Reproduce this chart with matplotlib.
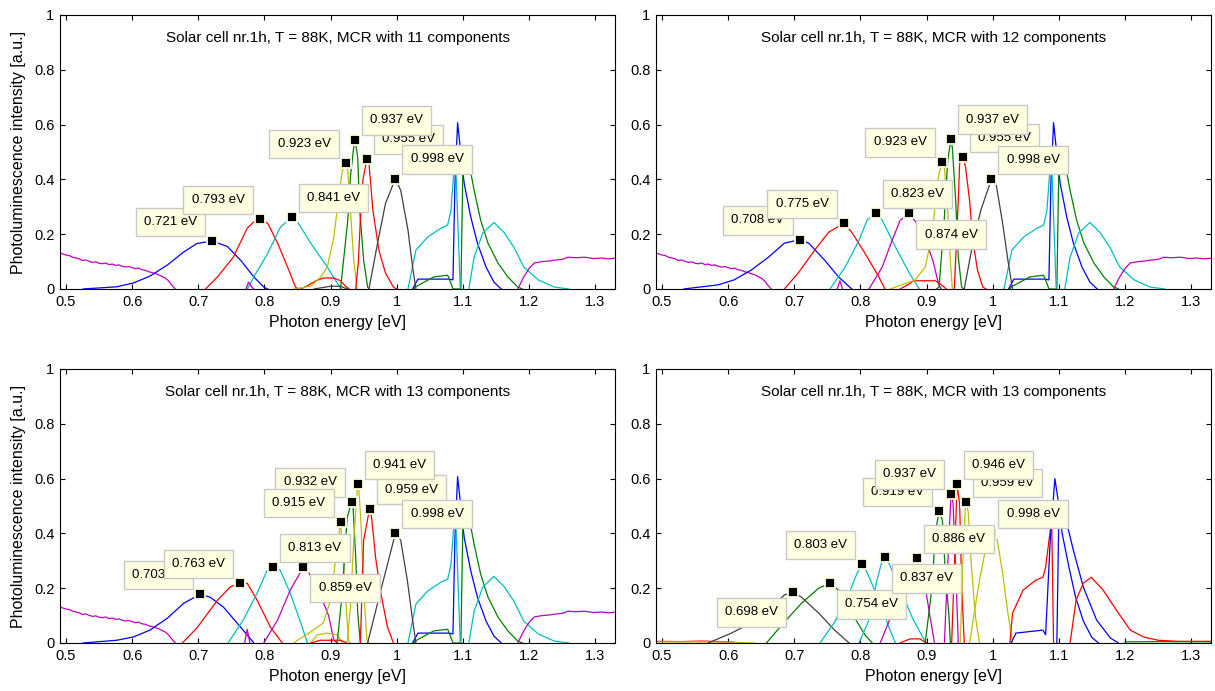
import matplotlib
matplotlib.use("Agg")
import matplotlib.pyplot as plt

plt.rcParams['font.family'] = ['Liberation Sans', 'DejaVu Sans']

# ---- tick labels / titles ----
x_ticks = [0.5, 0.6, 0.7, 0.8, 0.9, 1.0, 1.1, 1.2, 1.3]
x_tick_labels = ['0.5', '0.6', '0.7', '0.8', '0.9', '1', '1.1', '1.2', '1.3']
y_ticks = [0, 0.2, 0.4, 0.6, 0.8, 1.0]
y_tick_labels = ['0', '0.2', '0.4', '0.6', '0.8', '1']
n_components = [11, 12, 13, 13]

# ---- shared components (panels 1-3) ----
bg_low_e = [0.490, 0.495, 0.500, 0.505, 0.510, 0.515, 0.520, 0.525, 0.530, 0.535, 0.540, 0.545,
            0.550, 0.555, 0.560, 0.565, 0.570, 0.575, 0.580, 0.585, 0.590, 0.595, 0.600, 0.605,
            0.610, 0.615, 0.620, 0.625, 0.630, 0.635, 0.640, 0.645, 0.650, 0.655, 0.660, 0.665]
bg_low_i = [0.132, 0.128, 0.124, 0.122, 0.116, 0.113, 0.110, 0.104, 0.106, 0.101, 0.097, 0.099,
            0.094, 0.092, 0.095, 0.089, 0.091, 0.086, 0.088, 0.083, 0.080, 0.082, 0.078, 0.074,
            0.076, 0.070, 0.068, 0.063, 0.060, 0.056, 0.052, 0.046, 0.040, 0.030, 0.014, 0.0]
bg_high_e = [1.183, 1.192, 1.200, 1.208, 1.220, 1.230, 1.238, 1.250, 1.259, 1.270, 1.284, 1.297, 1.309, 1.320, 1.333]
bg_high_i = [0.0, 0.044, 0.075, 0.095, 0.100, 0.102, 0.105, 0.108, 0.116, 0.114, 0.116, 0.111, 0.113, 0.110, 0.113]
he_blue_e = [1.024, 1.032, 1.079, 1.085, 1.088, 1.092, 1.096, 1.102, 1.112, 1.122, 1.135, 1.147, 1.158]
he_blue_i = [0.0, 0.036, 0.036, 0.033, 0.385, 0.607, 0.516, 0.385, 0.262, 0.167, 0.080, 0.025, 0.0]
he_green_e = [1.025, 1.030, 1.056, 1.077, 1.082, 1.085, 1.097, 1.100, 1.103, 1.109, 1.117, 1.127, 1.138, 1.153, 1.168, 1.183, 1.190]
he_green_i = [0.0, 0.010, 0.044, 0.050, 0.020, 0.0, 0.0, 0.444, 0.480, 0.462, 0.360, 0.250, 0.167, 0.095, 0.044, 0.007, 0.0]
he_cyan_e = [1.017, 1.029, 1.047, 1.067, 1.077, 1.082, 1.086, 1.089, 1.093, 1.096]
he_cyan_i = [0.0, 0.142, 0.190, 0.222, 0.233, 0.287, 0.420, 0.470, 0.200, 0.0]
he_cyan2_e = [1.109, 1.117, 1.130, 1.147, 1.162, 1.177, 1.192, 1.214, 1.238, 1.260]
he_cyan2_i = [0.0, 0.116, 0.204, 0.243, 0.207, 0.153, 0.080, 0.033, 0.007, 0.0]

# ---- panel 1 (11 components) ----
p1_b_e = [0.526, 0.577, 0.602, 0.627, 0.653, 0.678, 0.698, 0.721, 0.744, 0.764, 0.784, 0.799, 0.805]
p1_b_i = [0.0, 0.008, 0.022, 0.047, 0.087, 0.135, 0.166, 0.175, 0.155, 0.105, 0.044, 0.007, 0.0]
p1_r1_e = [0.711, 0.729, 0.753, 0.774, 0.784, 0.793, 0.805, 0.820, 0.835, 0.847, 0.851]
p1_r1_i = [0.0, 0.044, 0.116, 0.222, 0.245, 0.255, 0.240, 0.167, 0.080, 0.007, 0.0]
p1_c_e = [0.774, 0.784, 0.805, 0.824, 0.841, 0.850, 0.870, 0.895, 0.910, 0.916]
p1_c_i = [0.0, 0.044, 0.130, 0.225, 0.262, 0.245, 0.167, 0.080, 0.022, 0.0]
p1_y_e = [0.845, 0.870, 0.885, 0.895, 0.905, 0.913, 0.918, 0.923, 0.926, 0.930, 0.935, 0.940]
p1_y_i = [0.0, 0.010, 0.044, 0.080, 0.190, 0.350, 0.433, 0.458, 0.433, 0.287, 0.105, 0.0]
p1_g_e = [0.915, 0.926, 0.930, 0.935, 0.937, 0.941, 0.944, 0.950, 0.956, 0.958]
p1_g_i = [0.0, 0.250, 0.410, 0.518, 0.545, 0.480, 0.287, 0.105, 0.007, 0.0]
p1_r2_e = [0.938, 0.942, 0.945, 0.949, 0.955, 0.958, 0.964, 0.973, 0.983, 0.995, 1.000]
p1_r2_i = [0.0, 0.100, 0.250, 0.400, 0.476, 0.460, 0.287, 0.142, 0.058, 0.007, 0.0]
p1_k_e = [0.958, 0.971, 0.983, 0.998, 1.006, 1.017, 1.024, 1.029]
p1_k_i = [0.0, 0.167, 0.312, 0.403, 0.360, 0.215, 0.080, 0.0]
p1_r3_e = [0.855, 0.865, 0.878, 0.889, 0.905, 0.915, 0.922, 0.928]
p1_r3_i = [0.0, 0.012, 0.030, 0.040, 0.040, 0.030, 0.012, 0.0]
p1_k2_e = [0.875, 0.900, 0.915, 0.925]
p1_k2_i = [0.0, 0.010, 0.010, 0.0]
p1_m_e = [0.772, 0.776, 0.780, 0.784]
p1_m_i = [0.0, 0.025, 0.010, 0.0]
tip1_e = [0.721, 0.793, 0.841, 0.923, 0.955, 0.937, 0.998]
tip1_i = [0.175, 0.255, 0.262, 0.458, 0.476, 0.545, 0.403]

# ---- panel 2 (12 components) ----
p2_b_e = [0.533, 0.585, 0.609, 0.635, 0.661, 0.685, 0.708, 0.722, 0.746, 0.767, 0.787]
p2_b_i = [0.0, 0.015, 0.033, 0.069, 0.116, 0.167, 0.180, 0.167, 0.105, 0.044, 0.0]
p2_r1_e = [0.685, 0.706, 0.731, 0.752, 0.775, 0.787, 0.807, 0.828, 0.837]
p2_r1_i = [0.0, 0.058, 0.142, 0.207, 0.240, 0.207, 0.130, 0.044, 0.0]
p2_c_e = [0.754, 0.777, 0.798, 0.810, 0.823, 0.833, 0.853, 0.874, 0.889]
p2_c_i = [0.0, 0.080, 0.178, 0.251, 0.276, 0.251, 0.153, 0.058, 0.0]
p2_m_e = [0.813, 0.833, 0.848, 0.860, 0.874, 0.885, 0.900, 0.910, 0.918, 0.922]
p2_m_i = [0.0, 0.080, 0.178, 0.250, 0.276, 0.240, 0.170, 0.100, 0.020, 0.0]
p2_y_e = [0.845, 0.853, 0.883, 0.898, 0.909, 0.916, 0.923, 0.927, 0.932, 0.936, 0.939]
p2_y_i = [0.0, 0.007, 0.033, 0.080, 0.204, 0.385, 0.465, 0.444, 0.287, 0.105, 0.0]
p2_g_e = [0.915, 0.919, 0.927, 0.932, 0.937, 0.939, 0.944, 0.948, 0.953, 0.956]
p2_g_i = [0.0, 0.007, 0.262, 0.469, 0.548, 0.516, 0.324, 0.116, 0.007, 0.0]
p2_r2_e = [0.942, 0.948, 0.950, 0.955, 0.959, 0.965, 0.970, 0.977, 0.985, 0.990]
p2_r2_i = [0.0, 0.324, 0.458, 0.480, 0.444, 0.324, 0.178, 0.069, 0.007, 0.0]
p2_k_e = [0.957, 0.970, 0.982, 0.998, 1.005, 1.015, 1.023, 1.030]
p2_k_i = [0.0, 0.167, 0.287, 0.400, 0.385, 0.240, 0.105, 0.0]
p2_r3_e = [0.860, 0.875, 0.880, 0.913, 0.920, 0.930]
p2_r3_i = [0.0, 0.020, 0.030, 0.030, 0.020, 0.0]
p2_m2_e = [0.765, 0.769, 0.773]
p2_m2_i = [0.0, 0.030, 0.0]
tip2_e = [0.708, 0.775, 0.823, 0.874, 0.923, 0.955, 0.937, 0.998]
tip2_i = [0.180, 0.240, 0.276, 0.276, 0.465, 0.480, 0.548, 0.400]

# ---- panel 3 (13 components) ----
p3_b_e = [0.526, 0.577, 0.602, 0.627, 0.653, 0.678, 0.703, 0.718, 0.738, 0.764, 0.784]
p3_b_i = [0.0, 0.010, 0.022, 0.047, 0.090, 0.145, 0.178, 0.167, 0.131, 0.058, 0.0]
p3_r1_e = [0.676, 0.698, 0.729, 0.748, 0.763, 0.774, 0.789, 0.809, 0.827]
p3_r1_i = [0.0, 0.055, 0.156, 0.204, 0.218, 0.218, 0.156, 0.058, 0.0]
p3_c_e = [0.745, 0.768, 0.789, 0.804, 0.813, 0.824, 0.839, 0.855, 0.865]
p3_c_i = [0.0, 0.084, 0.182, 0.265, 0.276, 0.265, 0.182, 0.073, 0.0]
p3_m_e = [0.799, 0.820, 0.839, 0.859, 0.866, 0.875, 0.887, 0.897, 0.905, 0.910]
p3_m_i = [0.0, 0.084, 0.193, 0.277, 0.260, 0.225, 0.160, 0.100, 0.010, 0.0]
p3_y1_e = [0.845, 0.850, 0.874, 0.889, 0.900, 0.908, 0.915, 0.918, 0.923, 0.927, 0.930]
p3_y1_i = [0.0, 0.010, 0.047, 0.073, 0.156, 0.313, 0.440, 0.350, 0.156, 0.010, 0.0]
p3_g_e = [0.910, 0.918, 0.925, 0.932, 0.934, 0.938, 0.941, 0.945]
p3_g_i = [0.0, 0.193, 0.458, 0.516, 0.495, 0.313, 0.109, 0.0]
p3_y2_e = [0.925, 0.930, 0.935, 0.941, 0.943, 0.946, 0.950, 0.955, 0.958]
p3_y2_i = [0.0, 0.131, 0.375, 0.580, 0.550, 0.436, 0.193, 0.010, 0.0]
p3_r2_e = [0.945, 0.950, 0.959, 0.962, 0.968, 0.976, 0.986, 0.995]
p3_r2_i = [0.0, 0.375, 0.490, 0.458, 0.313, 0.182, 0.058, 0.0]
p3_k_e = [0.956, 0.976, 0.998, 1.006, 1.016, 1.024, 1.029]
p3_k_i = [0.0, 0.193, 0.400, 0.375, 0.229, 0.084, 0.0]
p3_m2_e = [0.770, 0.774, 0.778]
p3_m2_i = [0.0, 0.050, 0.0]
p3_y3_e = [0.870, 0.880, 0.895, 0.910, 0.918]
p3_y3_i = [0.0, 0.030, 0.036, 0.030, 0.0]
p3_r3_e = [0.870, 0.885, 0.915, 0.925]
p3_r3_i = [0.0, 0.010, 0.010, 0.0]
tip3_e = [0.703, 0.763, 0.813, 0.859, 0.932, 0.915, 0.959, 0.941, 0.998]
tip3_i = [0.178, 0.218, 0.276, 0.277, 0.516, 0.440, 0.490, 0.580, 0.400]

# ---- panel 4 (13 components) ----
p4_k_e = [0.570, 0.605, 0.635, 0.666, 0.685, 0.698, 0.711, 0.737, 0.761, 0.783]
p4_k_i = [0.0, 0.036, 0.073, 0.131, 0.175, 0.185, 0.167, 0.109, 0.047, 0.0]
p4_g1_e = [0.658, 0.685, 0.711, 0.737, 0.754, 0.767, 0.787, 0.807, 0.818]
p4_g1_i = [0.0, 0.076, 0.145, 0.200, 0.218, 0.193, 0.109, 0.029, 0.0]
p4_c1_e = [0.739, 0.761, 0.783, 0.795, 0.803, 0.810, 0.828, 0.843, 0.853]
p4_c1_i = [0.0, 0.076, 0.182, 0.255, 0.287, 0.258, 0.156, 0.058, 0.0]
p4_c2_e = [0.798, 0.813, 0.825, 0.833, 0.837, 0.843, 0.859, 0.878, 0.894, 0.900]
p4_c2_i = [0.0, 0.084, 0.229, 0.302, 0.313, 0.291, 0.204, 0.095, 0.022, 0.0]
p4_m1_e = [0.830, 0.850, 0.870, 0.886, 0.895, 0.905, 0.912]
p4_m1_i = [0.0, 0.120, 0.250, 0.309, 0.250, 0.100, 0.0]
p4_g2_e = [0.898, 0.909, 0.913, 0.919, 0.924, 0.928, 0.934, 0.936]
p4_g2_i = [0.0, 0.218, 0.400, 0.480, 0.447, 0.276, 0.095, 0.0]
p4_m2_e = [0.927, 0.933, 0.937, 0.940, 0.944, 0.948]
p4_m2_i = [0.0, 0.338, 0.545, 0.513, 0.276, 0.0]
p4_r1_e = [0.938, 0.943, 0.946, 0.950, 0.953, 0.957]
p4_r1_i = [0.0, 0.340, 0.580, 0.510, 0.218, 0.0]
p4_y1_e = [0.951, 0.955, 0.959, 0.963, 0.968, 0.974, 0.980]
p4_y1_i = [0.0, 0.300, 0.513, 0.480, 0.276, 0.095, 0.0]
p4_y2_e = [0.965, 0.980, 0.992, 0.998, 1.007, 1.015, 1.023, 1.030]
p4_y2_i = [0.0, 0.229, 0.375, 0.400, 0.375, 0.255, 0.109, 0.0]
p4_r2_e = [1.026, 1.030, 1.046, 1.065, 1.076, 1.080, 1.087, 1.089, 1.092]
p4_r2_i = [0.0, 0.109, 0.193, 0.229, 0.240, 0.276, 0.411, 0.480, 0.0]
p4_b1_e = [1.028, 1.035, 1.076, 1.080, 1.087, 1.094, 1.099, 1.105, 1.115, 1.125, 1.137, 1.150, 1.160]
p4_b1_i = [0.0, 0.036, 0.047, 0.030, 0.375, 0.600, 0.520, 0.400, 0.280, 0.170, 0.080, 0.020, 0.0]
p4_b2_e = [1.097, 1.100, 1.106, 1.111, 1.122, 1.137, 1.157, 1.178, 1.190]
p4_b2_i = [0.0, 0.470, 0.480, 0.447, 0.338, 0.204, 0.084, 0.018, 0.0]
p4_r3_e = [1.117, 1.126, 1.137, 1.149, 1.167, 1.187, 1.208, 1.228, 1.250, 1.280, 1.333]
p4_r3_i = [0.0, 0.156, 0.218, 0.240, 0.193, 0.120, 0.047, 0.022, 0.010, 0.006, 0.006]
p4_r4_e = [0.490, 0.530, 0.560, 0.600, 0.620]
p4_r4_i = [0.006, 0.005, 0.007, 0.004, 0.0]
p4_y3_e = [0.490, 0.550, 0.600, 0.640]
p4_y3_i = [0.004, 0.004, 0.003, 0.0]
p4_g3_e = [1.200, 1.250, 1.333]
p4_g3_i = [0.004, 0.005, 0.004]
p4_r5_e = [0.860, 0.875, 0.890, 0.900]
p4_r5_i = [0.0, 0.015, 0.015, 0.0]
tip4_e = [0.698, 0.754, 0.803, 0.837, 0.886, 0.919, 0.937, 0.959, 0.946, 0.998]
tip4_i = [0.185, 0.218, 0.287, 0.313, 0.309, 0.480, 0.545, 0.513, 0.580, 0.400]

# MATLAB default colour order
COL = {'b': (0, 0, 1), 'g': (0, 0.5, 0), 'r': (1, 0, 0), 'c': (0, 0.75, 0.75),
       'm': (0.75, 0, 0.75), 'y': (0.75, 0.75, 0), 'k': (0.25, 0.25, 0.25)}

shared_high = [('b', he_blue_e, he_blue_i), ('g', he_green_e, he_green_i),
               ('c', he_cyan_e, he_cyan_i), ('c', he_cyan2_e, he_cyan2_i),
               ('m', bg_low_e, bg_low_i), ('m', bg_high_e, bg_high_i)]

panels = [
    dict(curves=shared_high + [('b', p1_b_e, p1_b_i), ('r', p1_r1_e, p1_r1_i), ('c', p1_c_e, p1_c_i),
                               ('r', p1_r3_e, p1_r3_i), ('k', p1_k2_e, p1_k2_i), ('m', p1_m_e, p1_m_i),
                               ('y', p1_y_e, p1_y_i), ('g', p1_g_e, p1_g_i), ('r', p1_r2_e, p1_r2_i),
                               ('k', p1_k_e, p1_k_i)],
         tips=(tip1_e, tip1_i), dirs=['ul', 'ul', 'ur', 'ul', 'ur', 'ur', 'ur']),
    dict(curves=shared_high + [('b', p2_b_e, p2_b_i), ('r', p2_r1_e, p2_r1_i), ('c', p2_c_e, p2_c_i),
                               ('m', p2_m2_e, p2_m2_i), ('m', p2_m_e, p2_m_i), ('r', p2_r3_e, p2_r3_i),
                               ('y', p2_y_e, p2_y_i), ('g', p2_g_e, p2_g_i), ('r', p2_r2_e, p2_r2_i),
                               ('k', p2_k_e, p2_k_i)],
         tips=(tip2_e, tip2_i), dirs=['ul', 'ul', 'ur', 'lr', 'ul', 'ur', 'ur', 'ur']),
    dict(curves=shared_high + [('b', p3_b_e, p3_b_i), ('r', p3_r1_e, p3_r1_i), ('c', p3_c_e, p3_c_i),
                               ('m', p3_m2_e, p3_m2_i), ('m', p3_m_e, p3_m_i), ('y', p3_y3_e, p3_y3_i),
                               ('r', p3_r3_e, p3_r3_i), ('y', p3_y1_e, p3_y1_i), ('g', p3_g_e, p3_g_i),
                               ('y', p3_y2_e, p3_y2_i), ('r', p3_r2_e, p3_r2_i), ('k', p3_k_e, p3_k_i)],
         tips=(tip3_e, tip3_i), dirs=['ul', 'ul', 'ur', 'lr', 'ul', 'ul', 'ur', 'ur', 'ur']),
    dict(curves=[('r', p4_r4_e, p4_r4_i), ('y', p4_y3_e, p4_y3_i), ('g', p4_g3_e, p4_g3_i),
                 ('k', p4_k_e, p4_k_i), ('g', p4_g1_e, p4_g1_i), ('c', p4_c1_e, p4_c1_i),
                 ('c', p4_c2_e, p4_c2_i), ('r', p4_r5_e, p4_r5_i), ('m', p4_m1_e, p4_m1_i),
                 ('g', p4_g2_e, p4_g2_i), ('m', p4_m2_e, p4_m2_i), ('r', p4_r1_e, p4_r1_i),
                 ('y', p4_y1_e, p4_y1_i), ('y', p4_y2_e, p4_y2_i), ('r', p4_r2_e, p4_r2_i),
                 ('b', p4_b1_e, p4_b1_i), ('b', p4_b2_e, p4_b2_i), ('r', p4_r3_e, p4_r3_i)],
         tips=(tip4_e, tip4_i), dirs=['ll', 'lr', 'ul', 'lr', 'ur', 'ul', 'ul', 'ur', 'ur', 'ur']),
]

# axes rectangles in figure fractions
rects = [[0.0494, 0.5818, 0.4568, 0.3965], [0.5399, 0.5818, 0.4568, 0.3965],
         [0.0494, 0.0695, 0.4568, 0.3965], [0.5399, 0.0695, 0.4568, 0.3965]]

TIP_FS = 9.5
TIP_PAD = 0.62
pad_px = TIP_PAD * TIP_FS * 100 / 72
tip_place = {'ul': ((-7 - pad_px, 5 + pad_px), 'right', 'bottom'),
             'ur': ((7 + pad_px, 5 + pad_px), 'left', 'bottom'),
             'lr': ((7 + pad_px, -7 - pad_px), 'left', 'top'),
             'll': ((-7 - pad_px, -6 - pad_px), 'right', 'top')}

fig = plt.figure(figsize=(12.15, 6.91), dpi=100)

for k, (p, rect) in enumerate(zip(panels, rects)):
    ax = fig.add_axes(rect)
    for c, e, i in p['curves']:
        ax.plot(e, i, color=COL[c], lw=0.9)
    te, ti = p['tips']
    ax.plot(te, ti, 's', ms=7.5, mfc='k', mec='#ffffe1', mew=1.3, zorder=5, ls='none')
    for j, (e, i, d) in enumerate(zip(te, ti, p['dirs'])):
        off, ha, va = tip_place[d]
        ax.annotate(f"{e:.3f} eV", xy=(e, i), xytext=off, textcoords='offset pixels',
                    ha=ha, va=va, fontsize=TIP_FS, zorder=10 + j,
                    bbox=dict(boxstyle=f'square,pad={TIP_PAD}', fc='#ffffe1', ec='#c8c8c8', lw=1))
    ax.set_xlim(0.491, 1.33)
    ax.set_ylim(0, 1)
    ax.set_xticks(x_ticks)
    ax.set_xticklabels(x_tick_labels)
    ax.set_yticks(y_ticks)
    ax.set_yticklabels(y_tick_labels)
    ax.tick_params(direction='in', top=True, right=True, length=3.6, width=0.8,
                   labelsize=10.5, pad=4)
    ax.text(0.5, 0.916, f"Solar cell nr.1h, T = 88K, MCR with {n_components[k]} components",
            transform=ax.transAxes, ha='center', va='center', fontsize=11)
    ax.set_xlabel("Photon energy [eV]", fontsize=11.5, labelpad=5)
    if k % 2 == 0:
        ax.set_ylabel("Photoluminescence intensity [a.u.]", fontsize=11.5, labelpad=6)

fig.savefig("out.png", dpi=100)
